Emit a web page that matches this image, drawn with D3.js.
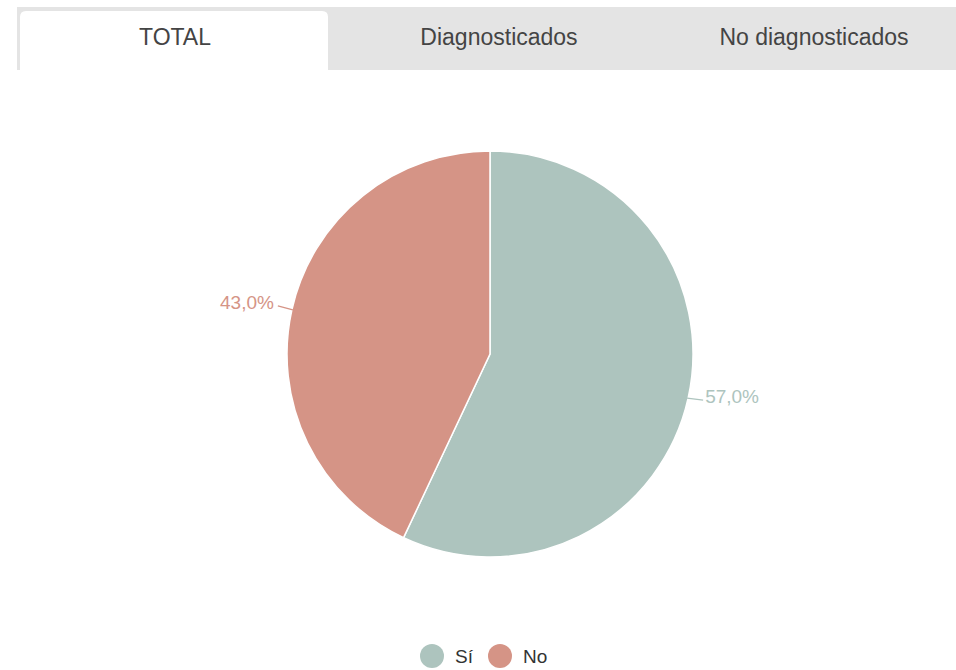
<!DOCTYPE html>
<html><head><meta charset="utf-8">
<script src="https://cdn.jsdelivr.net/npm/d3@7"></script>
<style>body{margin:0;background:#fff;}svg{display:block;font-family:"Liberation Sans",Arial,sans-serif;}</style>
</head><body>
<svg id="c" width="956" height="670"></svg>
<script>
const tabs = ["TOTAL", "Diagnosticados", "No diagnosticados"];
const categories = ["Sí", "No"];
const values = [57.0, 43.0];
const colors = ["#adc4be", "#d59486"];
const labelColors = ["#adc4be", "#d59486"];

const svg = d3.select("#c");
// tab bar
svg.append("rect").attr("x",17).attr("y",7).attr("width",939).attr("height",63).attr("fill","#e4e4e4");
svg.append("path").attr("d","M20,70 V17 Q20,11 26,11 H322 Q328,11 328,17 V70 Z").attr("fill","#fff");
const tabCenters = [175, 499, 814];
svg.selectAll("text.tab").data(tabs).join("text").attr("class","tab")
  .attr("x",(d,i)=>tabCenters[i]).attr("y",45).attr("text-anchor","middle")
  .attr("font-size",23).attr("fill","#444").text(d=>d);

// pie
const cx=490, cy=354, r=203;
const g = svg.append("g").attr("transform",`translate(${cx},${cy})`);
const pie = d3.pie().sort(null).value(d=>d)(values);
const arc = d3.arc().innerRadius(0).outerRadius(r);
g.selectAll("path").data(pie).join("path").attr("d",arc)
  .attr("fill",(d,i)=>colors[i]).attr("stroke","#fff").attr("stroke-width",1.5);

// labels with connector lines
const fmt = v => v.toFixed(1).replace(".",",")+"%";
pie.forEach((d,i)=>{
  const mid=(d.startAngle+d.endAngle)/2;
  const sx=Math.sin(mid), sy=-Math.cos(mid);
  const p0=[sx*(r-1), sy*(r-1)];
  const right = sx>0;
  const p1=[p0[0]+(right?16:-15), p0[1]+(right?2:-4)];
  g.append("line").attr("x1",p0[0]).attr("y1",p0[1]).attr("x2",p1[0]).attr("y2",p1[1])
    .attr("stroke",labelColors[i]).attr("stroke-width",1.2);
  g.append("text").attr("x",p1[0]+(right?2:-4)).attr("y",p1[1]-2)
    .attr("dominant-baseline","middle")
    .attr("text-anchor",right?"start":"end").attr("font-size",19)
    .attr("fill",labelColors[i]).text(fmt(values[i]));
});

// legend
const leg = svg.append("g").attr("transform","translate(0,656)");
const legX=[432, 500];
categories.forEach((c,i)=>{
  leg.append("circle").attr("cx",legX[i]).attr("cy",0).attr("r",12).attr("fill",colors[i]);
  leg.append("text").attr("x",legX[i]+23).attr("y",7).attr("font-size",19).attr("fill","#333").text(c);
});
</script>
</body></html>
